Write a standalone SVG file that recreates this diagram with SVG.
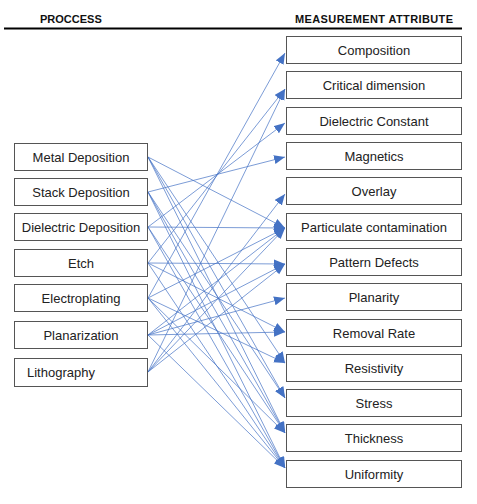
<svg xmlns="http://www.w3.org/2000/svg" width="477" height="504" viewBox="0 0 477 504">
<style>
.box{fill:#fff;stroke:#555;stroke-width:1}
.t{font-family:"Liberation Sans",Arial,sans-serif;font-size:13px;fill:#222;text-anchor:middle}
.h{font-family:"Liberation Sans",Arial,sans-serif;font-size:11px;font-weight:bold;fill:#111}
.c{stroke:#4472C4;stroke-width:1;stroke-opacity:0.7;fill:none;marker-end:url(#a)}
</style>
<defs>
<marker id="a" markerUnits="userSpaceOnUse" markerWidth="12" markerHeight="10" refX="11" refY="4.5" orient="auto">
<path d="M0,0 L11,4.5 L0,9 z" fill="#4472C4"/>
</marker>
</defs>
<rect width="477" height="504" fill="#fff"/>
<g id="header">
<text class="h" x="40" y="23">PROCCESS</text>
<text class="h" x="295" y="23" textLength="158">MEASUREMENT ATTRIBUTE</text>
<line x1="4" y1="28.5" x2="462" y2="28.5" stroke="#000" stroke-width="2"/>
</g>
<g id="connectors">
<!-- Metal Deposition -->
<line class="c" x1="148" y1="157" x2="285" y2="228"/>
<line class="c" x1="148" y1="157" x2="285" y2="363"/>
<line class="c" x1="148" y1="157" x2="285" y2="398"/>
<line class="c" x1="148" y1="157" x2="285" y2="433"/>
<!-- Stack Deposition -->
<line class="c" x1="148" y1="192" x2="285" y2="157"/>
<line class="c" x1="148" y1="192" x2="285" y2="398"/>
<line class="c" x1="148" y1="192" x2="285" y2="433"/>
<line class="c" x1="148" y1="192" x2="285" y2="468"/>
<!-- Dielectric Deposition -->
<line class="c" x1="148" y1="227" x2="285" y2="123"/>
<line class="c" x1="148" y1="227" x2="285" y2="228"/>
<line class="c" x1="148" y1="227" x2="285" y2="433"/>
<line class="c" x1="148" y1="227" x2="285" y2="468"/>
<!-- Etch -->
<line class="c" x1="148" y1="263" x2="285" y2="89"/>
<line class="c" x1="148" y1="263" x2="285" y2="264"/>
<line class="c" x1="148" y1="263" x2="285" y2="332"/>
<line class="c" x1="148" y1="263" x2="285" y2="468"/>
<!-- Electroplating -->
<line class="c" x1="148" y1="298" x2="285" y2="53"/>
<line class="c" x1="148" y1="298" x2="285" y2="228"/>
<line class="c" x1="148" y1="298" x2="285" y2="363"/>
<line class="c" x1="148" y1="298" x2="285" y2="433"/>
<line class="c" x1="148" y1="298" x2="285" y2="468"/>
<!-- Planarization -->
<line class="c" x1="148" y1="335" x2="285" y2="228"/>
<line class="c" x1="148" y1="335" x2="285" y2="264"/>
<line class="c" x1="148" y1="335" x2="285" y2="298"/>
<line class="c" x1="148" y1="335" x2="285" y2="332"/>
<line class="c" x1="148" y1="335" x2="285" y2="468"/>
<!-- Lithography -->
<line class="c" x1="148" y1="372" x2="285" y2="89"/>
<line class="c" x1="148" y1="372" x2="285" y2="194"/>
<line class="c" x1="148" y1="372" x2="285" y2="228"/>
<line class="c" x1="148" y1="372" x2="285" y2="264"/>
</g>
<g id="process-metal-deposition"><rect class="box" x="14.5" y="143.5" width="133" height="27"/><text class="t" x="81" y="161.5">Metal Deposition</text></g>
<g id="process-stack-deposition"><rect class="box" x="14.5" y="178.5" width="133" height="27"/><text class="t" x="81" y="196.5">Stack Deposition</text></g>
<g id="process-dielectric-deposition"><rect class="box" x="14.5" y="213.5" width="133" height="27"/><text class="t" x="81" y="231.5">Dielectric Deposition</text></g>
<g id="process-etch"><rect class="box" x="14.5" y="249.5" width="133" height="27"/><text class="t" x="81" y="267.5">Etch</text></g>
<g id="process-electroplating"><rect class="box" x="14.5" y="284.5" width="133" height="27"/><text class="t" x="81" y="302.5">Electroplating</text></g>
<g id="process-planarization"><rect class="box" x="14.5" y="321.5" width="133" height="27"/><text class="t" x="81" y="339.5">Planarization</text></g>
<g id="process-lithography"><rect class="box" x="14.5" y="358.5" width="133" height="28"/><text class="t" x="27" y="377" style="text-anchor:start">Lithography</text></g>
<g id="attr-composition"><rect class="box" x="286.5" y="36.5" width="175" height="27"/><text class="t" x="374" y="54.5">Composition</text></g>
<g id="attr-critical-dimension"><rect class="box" x="286.5" y="71.5" width="175" height="27"/><text class="t" x="374" y="89.5">Critical dimension</text></g>
<g id="attr-dielectric-constant"><rect class="box" x="286.5" y="107.5" width="175" height="27"/><text class="t" x="374" y="125.5">Dielectric Constant</text></g>
<g id="attr-magnetics"><rect class="box" x="286.5" y="142.5" width="175" height="27"/><text class="t" x="374" y="160.5">Magnetics</text></g>
<g id="attr-overlay"><rect class="box" x="286.5" y="177.5" width="175" height="27"/><text class="t" x="374" y="195.5">Overlay</text></g>
<g id="attr-particulate-contamination"><rect class="box" x="286.5" y="213.5" width="175" height="27"/><text class="t" x="374" y="231.5">Particulate contamination</text></g>
<g id="attr-pattern-defects"><rect class="box" x="286.5" y="248.5" width="175" height="27"/><text class="t" x="374" y="266.5">Pattern Defects</text></g>
<g id="attr-planarity"><rect class="box" x="286.5" y="283.5" width="175" height="27"/><text class="t" x="374" y="301.5">Planarity</text></g>
<g id="attr-removal-rate"><rect class="box" x="286.5" y="319.5" width="175" height="27"/><text class="t" x="374" y="337.5">Removal Rate</text></g>
<g id="attr-resistivity"><rect class="box" x="286.5" y="354.5" width="175" height="27"/><text class="t" x="374" y="372.5">Resistivity</text></g>
<g id="attr-stress"><rect class="box" x="286.5" y="389.5" width="175" height="27"/><text class="t" x="374" y="407.5">Stress</text></g>
<g id="attr-thickness"><rect class="box" x="286.5" y="424.5" width="175" height="27"/><text class="t" x="374" y="442.5">Thickness</text></g>
<g id="attr-uniformity"><rect class="box" x="286.5" y="460.5" width="175" height="27"/><text class="t" x="374" y="478.5">Uniformity</text></g>
</svg>
